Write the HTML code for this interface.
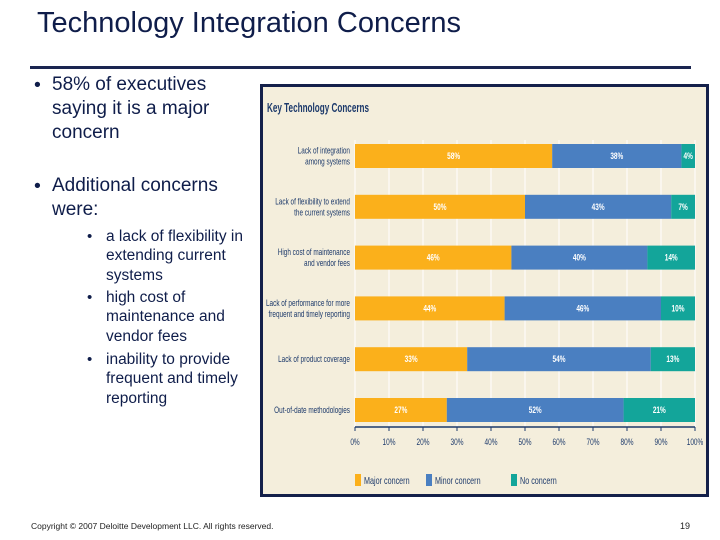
<!DOCTYPE html>
<html><head><meta charset="utf-8"><style>
body{margin:0;width:720px;height:540px;background:#fff;position:relative;overflow:hidden;font-family:"Liberation Sans",sans-serif;}
.t{position:absolute;white-space:nowrap;}
</style></head><body>
<div class="t" style="left:37px;top:7px;font-size:29px;color:#0f1d4a;">Technology Integration Concerns</div>
<div style="position:absolute;left:30px;top:66px;width:661px;height:3px;background:#1a2550;"></div>
<div style="position:absolute;left:0;top:0;color:#0f1d4a;">
<div class="t" style="left:34px;top:73px;font-size:19.5px;line-height:24px;">•</div>
<div class="t" style="left:52px;top:73px;font-size:19px;line-height:24px;">58% of executives<br>saying it is a major<br>concern</div>
<div class="t" style="left:34px;top:174px;font-size:19.5px;line-height:24px;">•</div>
<div class="t" style="left:52px;top:174px;font-size:19px;line-height:24px;">Additional concerns<br>were:</div>
<div class="t" style="left:87px;top:227px;font-size:15px;line-height:19.3px;">•</div>
<div class="t" style="left:106px;top:227px;font-size:15.5px;line-height:19.3px;">a lack of flexibility in<br>extending current<br>systems</div>
<div class="t" style="left:87px;top:288px;font-size:15px;line-height:19.3px;">•</div>
<div class="t" style="left:106px;top:288px;font-size:15.5px;line-height:19.3px;">high cost of<br>maintenance and<br>vendor fees</div>
<div class="t" style="left:87px;top:350px;font-size:15px;line-height:19.3px;">•</div>
<div class="t" style="left:106px;top:350px;font-size:15.5px;line-height:19.3px;">inability to provide<br>frequent and timely<br>reporting</div>
</div>
<div class="t" style="left:31px;top:521px;font-size:8.5px;color:#222;">Copyright © 2007 Deloitte Development LLC. All rights reserved.</div>
<div class="t" style="left:680px;top:521px;font-size:9px;color:#222;">19</div>
<svg id="chart" style="position:absolute;left:0;top:0" width="720" height="540"></svg>
<script>
const categories=[["Lack of integration","among systems"],["Lack of flexibility to extend","the current systems"],["High cost of maintenance","and vendor fees"],["Lack of performance for more","frequent and timely reporting"],["Lack of product coverage"],["Out-of-date methodologies"]];
const major=[58,50,46,44,33,27];
const minor=[38,43,40,46,54,52];
const none=[4,7,14,10,13,21];
const ticks=[0,10,20,30,40,50,60,70,80,90,100];
const seriesNames=["Major concern","Minor concern","No concern"];
const NS="http://www.w3.org/2000/svg";
const svg=document.getElementById('chart');
function mk(t,a,p){const e=document.createElementNS(NS,t);for(const k in a)e.setAttribute(k,a[k]);(p||svg).appendChild(e);return e;}
const SX=0.72;
function ntext(x,y,str,size,anchor,fill,weight){
const g=mk('g',{transform:`translate(${x},${y}) scale(${SX},1)`});
const t=mk('text',{x:0,y:0,"font-size":size,fill:fill,"text-anchor":anchor,"font-weight":weight||"normal"},g);
t.textContent=str;return t;}
const x0=355,x1=695,xs=v=>x0+(x1-x0)*v/100;
const yTop=144,step=50.8,bh=24,ys=i=>yTop+i*step;
const cols=["#fbb01b","#4a7fc1","#13a59a"];
const panel=mk('rect',{x:261.5,y:85.5,width:446,height:410,fill:"#f4eedc",stroke:"#14204a","stroke-width":3});


const ttl=mk('text',{x:267,y:112,"font-size":13,"font-weight":"bold",fill:"#1d3a6b",textLength:102,lengthAdjust:"spacingAndGlyphs"});
ttl.textContent="Key Technology Concerns";


ticks.forEach(t=>{
const g=mk('line',{x1:xs(t),x2:xs(t),y1:140,y2:427,stroke:"#fff","stroke-width":1});


mk('line',{x1:xs(t),x2:xs(t),y1:427,y2:431,stroke:"#1d3a6b","stroke-width":1});
const l=ntext(xs(t),445,t+"%",9,"middle","#1d3a6b");


});
const ax=mk('line',{x1:x0,x2:x1,y1:427,y2:427,stroke:"#1d3a6b","stroke-width":1.5});


const series=[major,minor,none];
categories.forEach((c,i)=>{
let acc=0;const y=ys(i);
series.forEach((s,j)=>{
const v=s[i];
const r=mk('rect',{x:xs(acc),y:y,width:xs(acc+v)-xs(acc),height:bh,fill:cols[j]});


const tx=ntext((xs(acc)+xs(acc+v))/2,y+bh/2+3,v+"%",9,"middle","#fff","bold");


acc+=v;});
const lines=c.length;
c.forEach((ln,k)=>{
const t=ntext(350,y+bh/2+3+(k-(lines-1)/2)*11,ln,8.9,"end","#1d3a6b");


});
});
const lx=[355,426,511];
seriesNames.forEach((n,j)=>{
const r=mk('rect',{x:lx[j],y:474,width:6,height:12,fill:cols[j]});


const t=ntext(lx[j]+9,484,n,10,"start","#1d3a6b");


});
</script>
</body></html>
